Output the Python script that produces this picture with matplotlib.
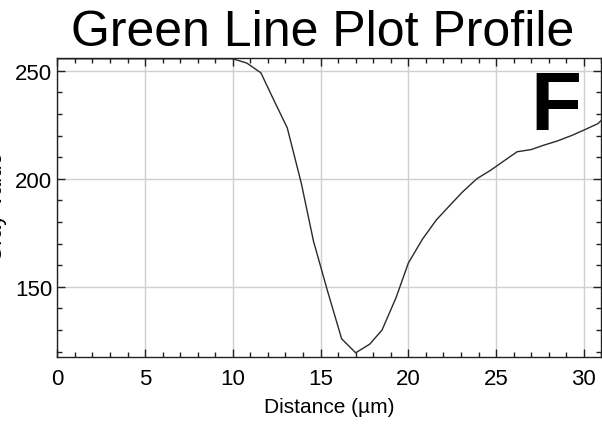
import matplotlib
matplotlib.use("Agg")
import matplotlib.pyplot as plt
from matplotlib.ticker import MultipleLocator

plt.rcParams["font.family"] = ["Liberation Sans", "DejaVu Sans"]

# profile
distance = [0, 10.0, 10.8, 11.6, 12.3, 13.1, 13.9, 14.6, 15.4, 16.2, 17.0, 17.8,
            18.5, 19.3, 20.0, 20.8, 21.6, 22.4, 23.1, 23.9, 24.7, 25.4, 26.2,
            27.0, 27.7, 28.5, 29.3, 30.0, 30.8, 31.0]
gray = [255.5, 255.5, 253.5, 249, 237, 223.6, 198, 171, 148, 126, 119.5, 123.5,
        130, 145, 161, 172, 181, 188, 194, 200, 204, 208, 212.5,
        213.5, 215.5, 217.5, 220, 222.5, 225.5, 227]
x_ticks = [0, 5, 10, 15, 20, 25, 30]
y_ticks = [150, 200, 250]

fig = plt.figure(figsize=(6.02, 4.31), dpi=100)
ax = fig.add_axes([57.3 / 602, 73.3 / 431, 1 - 57.3 / 602 - 0.001, 299 / 431])

ax.plot(distance, gray, color="#2a2a2a", linewidth=1.0)
ax.set_xlim(0, 31)
ax.set_ylim(117.7, 256)
ax.set_xticks(x_ticks)
ax.set_yticks(y_ticks)
ax.xaxis.set_minor_locator(MultipleLocator(1))
ax.yaxis.set_minor_locator(MultipleLocator(10))
ax.grid(True, which="major", color="#d0d0d0", linewidth=1.0)
ax.tick_params(which="both", direction="in", top=True, right=True, labelsize=16, color="#222222")
ax.tick_params(which="major", length=6, width=1)
ax.tick_params(which="minor", length=3.5, width=1)
ax.tick_params(axis="x", pad=8)
for s in ax.spines.values():
    s.set_color("#222222")
    s.set_linewidth(1.0)

ax.set_xlabel("Distance (µm)", fontsize=15, labelpad=6)
# y label sits mostly past the left edge, as in the source
fig.text(7 / 602, 0.52, "Gray Value", rotation=90, ha="right", va="center", fontsize=16)

fig.text(322.5 / 602, 1 - 46 / 431, "Green Line Plot Profile", ha="center", va="baseline", fontsize=36)
ax.text(0.963, 0.762, "F", transform=ax.transAxes, ha="right", va="baseline",
        fontsize=60, fontweight="bold")

fig.savefig("out.png", dpi=100)
